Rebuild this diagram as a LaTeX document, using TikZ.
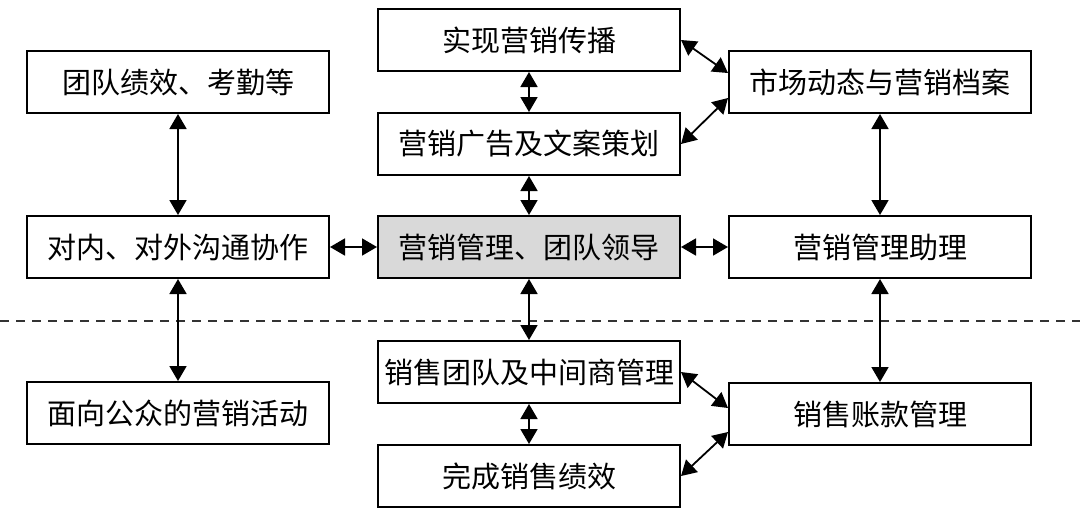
\documentclass[tikz,border=0pt]{standalone}
\usepackage{fontspec}
\setmainfont{Noto Sans CJK SC}
\usetikzlibrary{arrows.meta}
\definecolor{leadgray}{RGB}{217,217,217}

\begin{document}
\begin{tikzpicture}[x=0.5pt, y=-0.5pt,
    box/.style={draw, line width=1pt, minimum width=151pt, minimum height=31pt, inner sep=0pt,
        font=\fontsize{14.5pt}{17pt}\selectfont},
    link/.style={{Triangle[length=7.5pt,width=8.5pt]}-{Triangle[length=7.5pt,width=8.5pt]}, line width=0.9pt}]
    \useasboundingbox (0,0) rectangle (1080,526);

    \draw[dashed, dash pattern=on 4.5pt off 3.5pt, line width=0.8pt, black!80] (0,321) -- (1080,321);

    \node[box] (kaoqin) at (178,82) {团队绩效、考勤等};
    \node[box] (goutong) at (178,247) {对内、对外沟通协作};
    \node[box] (gongzhong) at (178,413) {面向公众的营销活动};

    \node[box] (chuanbo) at (529,40) {实现营销传播};
    \node[box] (guanggao) at (529,144) {营销广告及文案策划};
    \node[box, fill=leadgray] (lingdao) at (529,247) {营销管理、团队领导};
    \node[box] (tuandui) at (529,372) {销售团队及中间商管理};
    \node[box] (jixiao) at (529,476) {完成销售绩效};

    \node[box] (dangan) at (880,82) {市场动态与营销档案};
    \node[box] (zhuli) at (880,247) {营销管理助理};
    \node[box] (zhangkuan) at (880,414) {销售账款管理};

    \draw[link] (kaoqin) -- (goutong);
    \draw[link] (goutong) -- (gongzhong);
    \draw[link] (goutong) -- (lingdao);
    \draw[link] (lingdao) -- (zhuli);

    \draw[link] (chuanbo) -- (guanggao);
    \draw[link] (guanggao) -- (lingdao);
    \draw[link] (lingdao) -- (tuandui);
    \draw[link] (tuandui) -- (jixiao);

    \draw[link] (dangan) -- (zhuli);
    \draw[link] (zhuli) -- (zhangkuan);

    \draw[link] (chuanbo.east) -- ([yshift=4.5pt]dangan.west);
    \draw[link] (guanggao.east) -- ([yshift=-8pt]dangan.west);
    \draw[link] (tuandui.east) -- ([yshift=3pt]zhangkuan.west);
    \draw[link] (jixiao.east) -- ([yshift=-9pt]zhangkuan.west);
\end{tikzpicture}
\end{document}
